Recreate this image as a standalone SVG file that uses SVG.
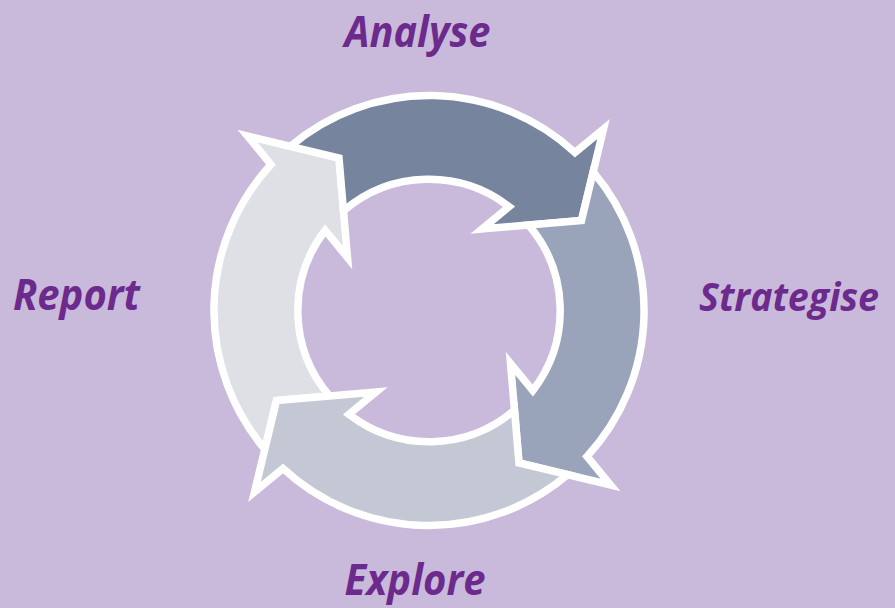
<svg xmlns="http://www.w3.org/2000/svg" xmlns:xlink="http://www.w3.org/1999/xlink" width="895" height="608" viewBox="0 0 895 608">
  <style>
    .arrow { stroke: #FFFFFF; stroke-width: 7.5; stroke-linejoin: miter; stroke-miterlimit: 10; }
    .label { font-family: "Open Sans", "Noto Sans", "Liberation Sans", sans-serif; font-style: italic; font-weight: 700; font-size: 43px; fill: #6B2A8C; text-anchor: middle; }
  </style>
  <defs>
    <path id="cycleArrow" d="M -164.2 138.7 A 215 215 0 0 1 -158 -146 L -181.5 -174.5 L -90 -152.5 L -81.5 -53 L -103.8 -80.1 A 131 131 0 0 0 -99.5 85.5 L -152.5 90 Z"/>
  </defs>
  <rect x="0" y="0" width="895" height="608" fill="#C9B9DA"/>
  <g id="connectors"></g>
  <g id="node-report">
    <use xlink:href="#cycleArrow" href="#cycleArrow" class="arrow" fill="#DFE0E6" transform="translate(429 310.5) rotate(0)"/>
    <text class="label" x="76.5" y="310" textLength="127" lengthAdjust="spacingAndGlyphs">Report</text>
  </g>
  <g id="node-analyse">
    <use xlink:href="#cycleArrow" href="#cycleArrow" class="arrow" fill="#76849E" transform="translate(429 310.5) rotate(90)"/>
    <text class="label" x="417.5" y="47" textLength="146" lengthAdjust="spacingAndGlyphs">Analyse</text>
  </g>
  <g id="node-strategise">
    <use xlink:href="#cycleArrow" href="#cycleArrow" class="arrow" fill="#99A3BA" transform="translate(429 310.5) rotate(180)"/>
    <text class="label" x="789" y="311" font-size="40" style="font-size:40px" textLength="180" lengthAdjust="spacingAndGlyphs">Strategise</text>
  </g>
  <g id="node-explore">
    <use xlink:href="#cycleArrow" href="#cycleArrow" class="arrow" fill="#C4C8D4" transform="translate(429 310.5) rotate(270)"/>
    <text class="label" x="415" y="595" textLength="141" lengthAdjust="spacingAndGlyphs">Explore</text>
  </g>
</svg>
